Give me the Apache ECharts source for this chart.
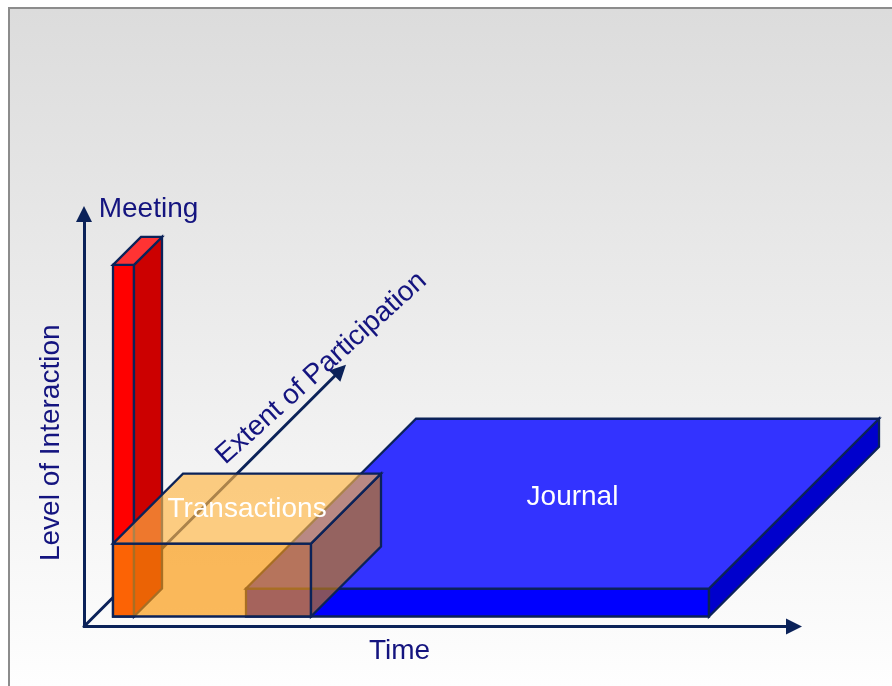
<!DOCTYPE html>
<html>
<head>
<meta charset="utf-8">
<script src="https://cdn.jsdelivr.net/npm/echarts@6.0.0/dist/echarts.min.js"></script>
<style>
  html, body { margin: 0; padding: 0; background: #fff; }
  #wrap { position: relative; width: 892px; height: 686px; overflow: hidden; }
  #frame {
    position: absolute; left: 8px; top: 7px; right: 0; bottom: 0;
    border-left: 2px solid #8c8c8c; border-top: 2px solid #8c8c8c;
    background: linear-gradient(to bottom, #dcdcdc 0%, #fefefe 100%);
  }
  #main { position: absolute; left: 0; top: 0; width: 892px; height: 686px; }
</style>
</head>
<body>
<div id="wrap">
  <div id="frame"></div>
  <div id="main"></div>
</div>
<script>
// boxes, drawn back to front (time / level / depth units, same scale on all three)
const boxNames = ['Journal', 'Meeting', 'Transactions'];
const timeStart = [152, 19, 19];
const timeEnd = [615, 40, 217];
const levelTop = [28, 352, 73];
const depthStart = [10, 10, 10];
const depthEnd = [180, 38, 80];

const axisNames = ['Time', 'Level of Interaction', 'Extent of Participation'];
const timeMax = 710;
const levelMax = 413;
const depthAxisEnd = 262;

const navy = '#0b2259';
const textNavy = '#14147f';
const font = '28px "Liberation Sans", Arial, sans-serif';

// face colours: front, side, top ; label colour and nudge from top-face centre
const boxStyle = {
  Journal: { front: '#0000ff', side: '#0000cc', top: '#3333ff', label: '#ffffff', dx: 10, dy: -6 },
  Meeting: { front: '#ff0000', side: '#cc0000', top: '#ff3333', label: textNavy, dx: 11, dy: -42 },
  Transactions: {
    front: 'rgba(250,151,8,0.66)', side: 'rgba(200,124,14,0.66)', top: 'rgba(255,182,68,0.66)',
    label: '#ffffff', dx: 0, dy: 1
  }
};

const boxData = boxNames.map((n, i) => [timeStart[i], timeEnd[i], levelTop[i], depthStart[i], depthEnd[i]]);

const chart = echarts.init(document.getElementById('main'), null, { renderer: 'canvas' });

function renderBox(params, api) {
  const name = boxNames[params.dataIndex];
  const st = boxStyle[name];
  const t0 = api.value(0), t1 = api.value(1), l1 = api.value(2), p0 = api.value(3), p1 = api.value(4);
  const l0 = 0;
  // oblique projection: depth moves up-right at 45 deg
  const P = (t, l, p) => api.coord([t + p, l + p]);
  const edge = { stroke: navy, lineWidth: 2.3, lineJoin: 'miter' };
  const front = [P(t0, l0, p0), P(t1, l0, p0), P(t1, l1, p0), P(t0, l1, p0)];
  const side = [P(t1, l0, p0), P(t1, l0, p1), P(t1, l1, p1), P(t1, l1, p0)];
  const top = [P(t0, l1, p0), P(t1, l1, p0), P(t1, l1, p1), P(t0, l1, p1)];
  const c = P((t0 + t1) / 2, l1, (p0 + p1) / 2);
  return {
    type: 'group',
    children: [
      { type: 'polygon', shape: { points: front }, style: Object.assign({ fill: st.front }, edge) },
      { type: 'polygon', shape: { points: side }, style: Object.assign({ fill: st.side }, edge) },
      { type: 'polygon', shape: { points: top }, style: Object.assign({ fill: st.top }, edge) },
      {
        type: 'text', x: c[0] + st.dx, y: c[1] + st.dy,
        style: { text: name, fill: st.label, font: font, align: 'center', verticalAlign: 'middle' }
      }
    ]
  };
}

function renderDepthAxis(params, api) {
  const end = api.value(0);
  const o = api.coord([0, 0]);
  const tip = api.coord([end, end]);
  const len = Math.hypot(tip[0] - o[0], tip[1] - o[1]);
  const d = [(tip[0] - o[0]) / len, (tip[1] - o[1]) / len];
  const n = [d[1], -d[0]]; // points up-left
  const headL = 16, headW = 8;
  const lineEnd = [tip[0] - d[0] * (headL - 4), tip[1] - d[1] * (headL - 4)];
  const b = [tip[0] - d[0] * headL, tip[1] - d[1] * headL];
  const mid = api.coord([248, 248]);
  return {
    type: 'group',
    children: [
      { type: 'line', shape: { x1: o[0], y1: o[1], x2: lineEnd[0], y2: lineEnd[1] }, style: { stroke: navy, lineWidth: 3 } },
      {
        type: 'polygon',
        shape: { points: [tip, [b[0] + n[0] * headW, b[1] + n[1] * headW], [b[0] - n[0] * headW, b[1] - n[1] * headW]] },
        style: { fill: navy }
      },
      {
        type: 'text', x: mid[0] + n[0] * 15, y: mid[1] + n[1] * 15, rotation: 42 * Math.PI / 180,
        style: { text: axisNames[2], fill: textNavy, font: font, align: 'center', verticalAlign: 'middle' }
      }
    ]
  };
}

const option = {
  animation: false,
  backgroundColor: 'transparent',
  textStyle: { fontFamily: 'Liberation Sans' },
  grid: { left: 84, top: 214, right: 98, bottom: 59.5 },
  xAxis: {
    type: 'value', min: 0, max: timeMax,
    name: axisNames[0], nameLocation: 'middle', nameGap: 11,
    nameTextStyle: { color: textNavy, fontSize: 28, fontFamily: 'Liberation Sans', padding: [0, 79, 0, 0] },
    axisLine: { show: true, symbol: ['none', 'triangle'], symbolSize: [16, 16], lineStyle: { color: navy, width: 3 } },
    axisTick: { show: false }, axisLabel: { show: false }, splitLine: { show: false }
  },
  yAxis: {
    type: 'value', min: 0, max: levelMax,
    name: axisNames[1], nameLocation: 'middle', nameGap: 19,
    nameTextStyle: { color: textNavy, fontSize: 28, fontFamily: 'Liberation Sans', padding: [0, 45, 0, 0] },
    axisLine: { show: true, symbol: ['none', 'triangle'], symbolSize: [16, 16], lineStyle: { color: navy, width: 3 } },
    axisTick: { show: false }, axisLabel: { show: false }, splitLine: { show: false }
  },
  series: [
    {
      type: 'custom', silent: true, clip: false, z: 3,
      data: [[depthAxisEnd]],
      renderItem: renderDepthAxis
    },
    {
      type: 'custom', silent: true, clip: false, z: 4,
      encode: { x: [0, 1], y: 2 },
      data: boxData,
      renderItem: renderBox
    }
  ]
};
chart.setOption(option);
</script>
</body>
</html>
